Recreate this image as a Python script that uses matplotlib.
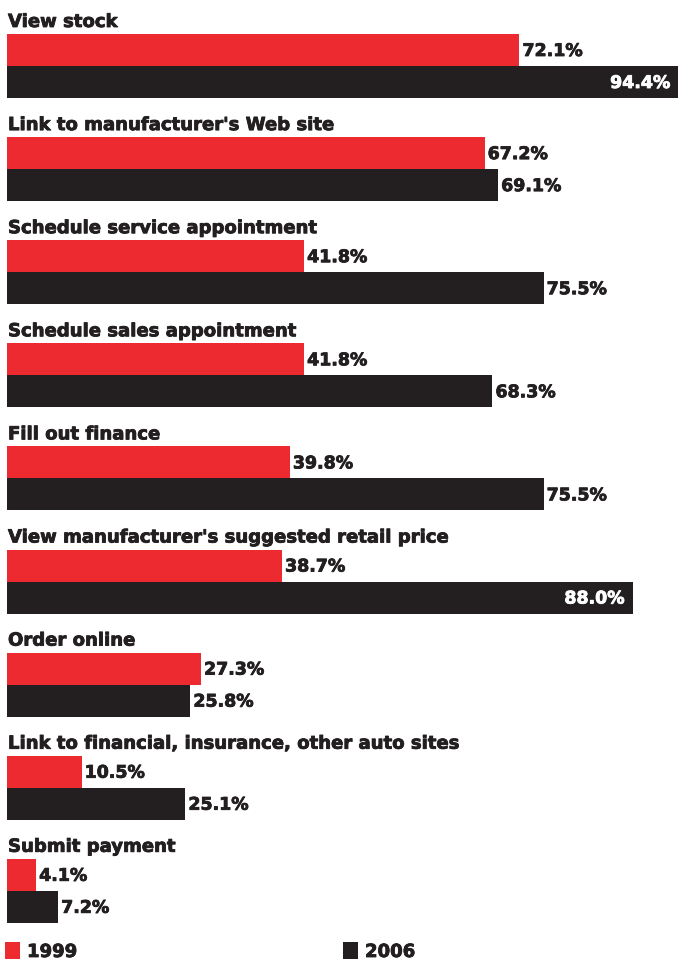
import matplotlib.pyplot as plt
import matplotlib.patheffects as pe
from matplotlib.patches import Rectangle

categories = ["View stock",
              "Link to manufacturer's Web site",
              "Schedule service appointment",
              "Schedule sales appointment",
              "Fill out finance",
              "View manufacturer's suggested retail price",
              "Order online",
              "Link to financial, insurance, other auto sites",
              "Submit payment"]
v1999 = [72.1, 67.2, 41.8, 41.8, 39.8, 38.7, 27.3, 10.5, 4.1]
v2006 = [94.4, 69.1, 75.5, 68.3, 75.5, 88.0, 25.8, 25.1, 7.2]
years = ["1999", "2006"]

RED = "#ec2a2f"
DARK = "#231f20"
W, H = 678, 960
x0 = 7          # pixel where the bars start
step = 103.1    # pixel height of one group
bar_h = 32
first_top = 34

fig = plt.figure(figsize=(W / 100, H / 100), dpi=100)
ax = fig.add_axes([0, 0, 1, 1])
ax.set_xlim(0, W)
ax.set_ylim(H, 0)
ax.axis("off")

px_per = (W - x0) / max(v2006)
heavy = [pe.withStroke(linewidth=0.6, foreground=DARK)]
heavy_w = [pe.withStroke(linewidth=0.6, foreground="white")]
font = dict(family="DejaVu Sans", weight="bold", color=DARK, path_effects=heavy)

for i, cat in enumerate(categories):
    top = first_top + i * step
    ax.text(x0 + 1, top - 7, cat, fontsize=13, va="baseline", ha="left", **font)
    # 1999 bar
    w1 = v1999[i] * px_per
    ax.barh(top + bar_h / 2, w1, height=bar_h, left=x0, color=RED, linewidth=0)
    ax.text(x0 + w1 + 3, top + bar_h / 2 + 1, f"{v1999[i]:.1f}%", fontsize=12.5,
            va="center", ha="left", **font)
    # 2006 bar
    w2 = v2006[i] * px_per
    yc = top + bar_h * 1.5
    ax.barh(yc, w2, height=bar_h, left=x0, color=DARK, linewidth=0)
    if v2006[i] > 80:
        ax.text(x0 + w2 - 8, yc + 1, f"{v2006[i]:.1f}%", fontsize=12.5, va="center",
                ha="right", family="DejaVu Sans", weight="bold", color="white",
                path_effects=heavy_w)
    else:
        ax.text(x0 + w2 + 3, yc + 1, f"{v2006[i]:.1f}%", fontsize=12.5, va="center",
                ha="left", **font)

# legend along the bottom
for lx, col, yr in [(5, RED, years[0]), (343, DARK, years[1])]:
    ax.add_patch(Rectangle((lx, 942), 15, 17, color=col, linewidth=0))
    ax.text(lx + 22, 957, yr, fontsize=13, va="baseline", ha="left", **font)

fig.savefig("out.png", dpi=100)
